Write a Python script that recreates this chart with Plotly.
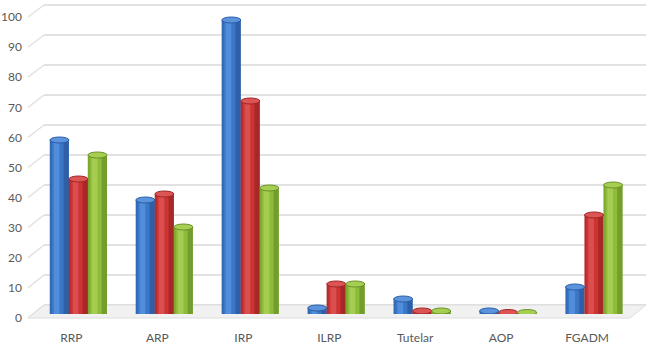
import plotly.graph_objects as go

# ---------------- data ----------------
categories = ["RRP", "ARP", "IRP", "ILRP", "Tutelar", "AOP", "FGADM"]
series_a = [58, 38, 98, 2, 5, 1, 9]      # blue
series_b = [45, 40, 71, 10, 1, 0.5, 33]  # red
series_c = [53, 29, 42, 10, 1, 0.5, 43]  # green
y_ticks = [0, 10, 20, 30, 40, 50, 60, 70, 80, 90, 100]
y_tick_labels = ["0", "10", "20", "30", "40", "50", "60", "70", "80", "90", "100"]

# ---------------- layout helpers ----------------
W, H = 646, 353
def fx(p):
    return p / W
def fy(p):
    return 1 - p / H

palette = [
    dict(base="#3b77c6", hi="#5f9de8", sh="#234f8e", cap="#5b93dc", capline="#2a5ea6"),
    dict(base="#cc3434", hi="#e46060", sh="#8a1f1f", cap="#dd5454", capline="#9e2626"),
    dict(base="#8ebc3a", hi="#b2d862", sh="#5c8322", cap="#a6cf52", capline="#6a9228"),
]
all_series = [series_a, series_b, series_c]

group = 0.664
w = group / 3

fig = go.Figure()
shapes = []

for i, vals in enumerate(all_series):
    c = palette[i]
    off = -group / 2 + i * w
    # floor shadow
    fig.add_trace(go.Bar(x=categories, y=[0.8] * len(vals), base=[-0.8] * len(vals),
                         width=w * 1.15, offset=off + w * 0.05,
                         marker=dict(color="#9a9a9a", opacity=0.35, line=dict(width=0)),
                         xaxis="x", yaxis="y", showlegend=False, hoverinfo="skip"))
    # body
    fig.add_trace(go.Bar(x=categories, y=vals, width=w, offset=off,
                         marker=dict(color=c["base"], line=dict(width=0)),
                         xaxis="x", yaxis="y", showlegend=False, hoverinfo="skip"))
    # dark right side
    fig.add_trace(go.Bar(x=categories, y=vals, width=w * 0.28, offset=off + w * 0.72,
                         marker=dict(color=c["sh"], opacity=0.55, line=dict(width=0)),
                         xaxis="x", yaxis="y", showlegend=False, hoverinfo="skip"))
    # dark left edge
    fig.add_trace(go.Bar(x=categories, y=vals, width=w * 0.1, offset=off,
                         marker=dict(color=c["sh"], opacity=0.35, line=dict(width=0)),
                         xaxis="x", yaxis="y", showlegend=False, hoverinfo="skip"))
    # highlight
    fig.add_trace(go.Bar(x=categories, y=vals, width=w * 0.3, offset=off + w * 0.2,
                         marker=dict(color=c["hi"], opacity=0.6, line=dict(width=0)),
                         xaxis="x", yaxis="y", showlegend=False, hoverinfo="skip"))
    # elliptical caps
    for k, v in enumerate(vals):
        x0 = k + off
        shapes.append(dict(type="circle", xref="x", yref="y",
                           x0=x0, x1=x0 + w, y0=v - 1.0, y1=v + 1.0,
                           fillcolor=c["cap"], line=dict(color=c["capline"], width=1),
                           layer="above"))

# back-wall gridlines and side-wall diagonals (derived from tick values)
front_px = lambda v: 318 - 3.01 * v
back_px = lambda v: 305 - 3.0 * v
for v in y_ticks:
    shapes.append(dict(type="line", xref="paper", yref="paper",
                       x0=fx(44), x1=fx(646), y0=fy(back_px(v)), y1=fy(back_px(v)),
                       line=dict(color="#e2e2e2", width=2), layer="below"))
    shapes.append(dict(type="line", xref="paper", yref="paper",
                       x0=fx(28), x1=fx(44), y0=fy(front_px(v)), y1=fy(back_px(v)),
                       line=dict(color="#e2e2e2", width=1.5), layer="below"))

# floor
shapes.append(dict(type="path", xref="paper", yref="paper",
                   path=f"M {fx(28)},{fy(318)} L {fx(630)},{fy(318)} L {fx(646)},{fy(305)} L {fx(44)},{fy(305)} Z",
                   fillcolor="#f1f1f1", line=dict(color="#dcdcdc", width=1), layer="below"))

# label-only axis for y ticks
fig.add_trace(go.Scatter(x=[None], y=[None], xaxis="x", yaxis="y2",
                         showlegend=False, hoverinfo="skip"))

fig.update_layout(
    width=W, height=H,
    margin=dict(l=0, r=0, t=0, b=0, autoexpand=False),
    paper_bgcolor="white", plot_bgcolor="rgba(0,0,0,0)",
    barmode="overlay",
    showlegend=False,
    font=dict(family="Lato, Open Sans, sans-serif", size=12, color="#595959"),
    xaxis=dict(domain=[fx(35.5), fx(637)], type="category", categoryorder="array",
               categoryarray=categories, showgrid=False, showline=False, zeroline=False,
               automargin=False,
               ticks="", ticklabelshift=-7, ticklabelstandoff=15,
               tickfont=dict(size=12, color="#595959")),
    yaxis=dict(domain=[fy(314), fy(14)], range=[0, 100], visible=False,
               automargin=False, fixedrange=True),
    yaxis2=dict(domain=[fy(318), fy(17)], range=[0, 100], anchor="free",
                position=fx(22), tickmode="array", tickvals=y_ticks,
                ticktext=y_tick_labels, showgrid=False, zeroline=False, showline=False,
                automargin=False,
                ticks="", tickfont=dict(size=12, color="#595959")),
    shapes=shapes,
)

fig.write_html("out.html")
